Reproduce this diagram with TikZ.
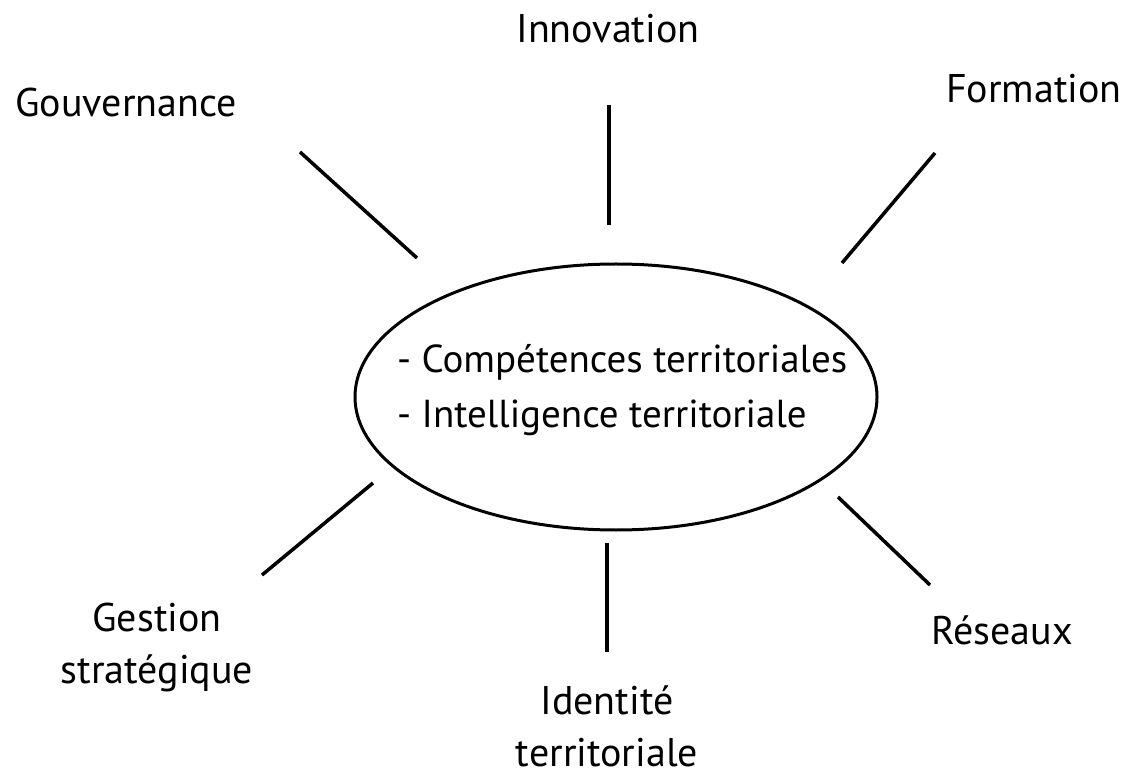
\documentclass[tikz,border=0pt]{standalone}
\usepackage{fontspec}
\setmainfont{PT Sans}
\usetikzlibrary{shapes.geometric}

\tikzset{
  label/.style={font=\fontsize{40}{52}\selectfont, align=center, inner sep=0pt, anchor=base},
  spoke/.style={line width=3.5pt},
}

\begin{document}
\begin{tikzpicture}[x=1pt, y=-1pt]
    \useasboundingbox (0,0) rectangle (1122,775);
    % centre
    \node[draw, ellipse, line width=3pt, minimum width=522pt, minimum height=266pt, inner sep=0pt] (oval) at (616,397) {};
    \node[label, font=\fontsize{39}{55}\selectfont, align=left, anchor=base west] (centre) at (397,428) {- Compétences territoriales\\- Intelligence territoriale};
    % labels
    \node[label] (innov) at (608,43) {Innovation};
    \node[label] (gouv) at (126,117) {Gouvernance};
    \node[label] (form) at (1034,103) {Formation};
    \node[label] (gest) at (157,683) {Gestion\\stratégique};
    \node[label] (ident) at (607,766) {Identité\\territoriale};
    \node[label] (res) at (1002,644) {Réseaux};
    % spokes
    \coordinate (g1) at (300,152); \coordinate (g2) at (417,258);
    \coordinate (i1) at (609,105); \coordinate (i2) at (609,225);
    \coordinate (f1) at (935,153); \coordinate (f2) at (842,263);
    \coordinate (s1) at (373,483); \coordinate (s2) at (262,575);
    \coordinate (t1) at (607,543); \coordinate (t2) at (607,652);
    \coordinate (r1) at (838,497); \coordinate (r2) at (930,585);
    \foreach \a/\b in {g1/g2, i1/i2, f1/f2, s1/s2, t1/t2, r1/r2}
        \draw[spoke] (\a) -- (\b);
\end{tikzpicture}
\end{document}
